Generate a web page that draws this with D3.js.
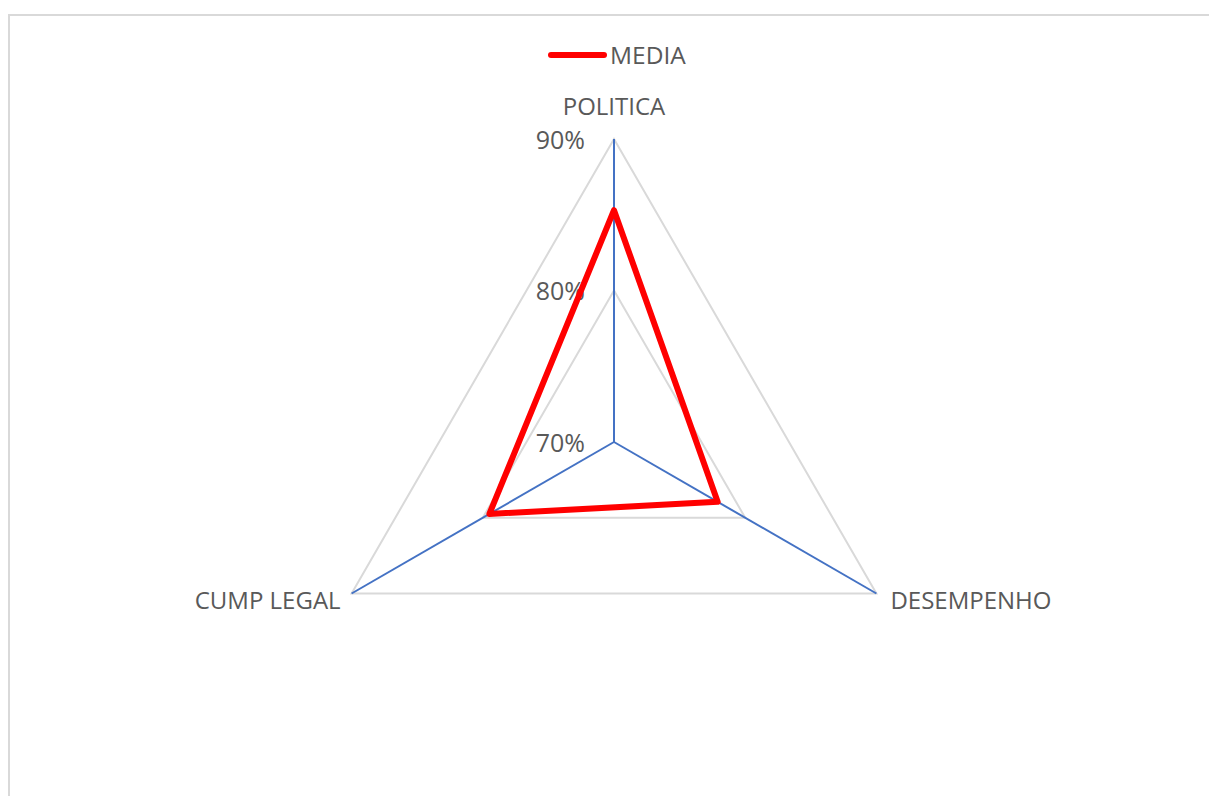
<!DOCTYPE html>
<html>
<head>
<meta charset="utf-8">
<script src="https://cdn.jsdelivr.net/npm/d3@7"></script>
<style>
  body { margin: 0; background: #fff; }
  text { font-family: "Open Sans", sans-serif; fill: #595959; }
</style>
</head>
<body>
<svg id="chart" width="1209" height="796"></svg>
<script>
// radar data
var axes = ["POLITICA", "DESEMPENHO", "CUMP LEGAL"];
var media = [0.853, 0.779, 0.795];
var seriesName = "MEDIA";
var tickValues = [0.7, 0.8, 0.9];

var w = 1209, h = 796;
var cx = 614, cy = 442, R = 303;

var svg = d3.select("#chart");

// chart area border
svg.append("rect")
    .attr("x", 9).attr("y", 15)
    .attr("width", w + 20).attr("height", h + 20)
    .attr("fill", "none")
    .attr("stroke", "#d9d9d9")
    .attr("stroke-width", 2);

var r = d3.scaleLinear().domain([0.7, 0.9]).range([0, R]);
var fmt = d3.format(".0%");

function angle(i) { return -Math.PI / 2 + i * 2 * Math.PI / axes.length; }
function pt(i, v) {
    var a = angle(i);
    return [cx + r(v) * Math.cos(a), cy + r(v) * Math.sin(a)];
}

var g = svg.append("g");

// grid rings
g.selectAll("path.ring")
    .data(tickValues.slice(1))
    .enter()
    .append("path")
    .attr("class", "ring")
    .attr("d", function(t) {
        return d3.line()(axes.map(function(d, i) { return pt(i, t); })) + "Z";
    })
    .attr("fill", "none")
    .attr("stroke", "#d9d9d9")
    .attr("stroke-width", 2);

// spokes
g.selectAll("line.spoke")
    .data(axes)
    .enter()
    .append("line")
    .attr("x1", cx).attr("y1", cy)
    .attr("x2", function(d, i) { return pt(i, 0.9)[0]; })
    .attr("y2", function(d, i) { return pt(i, 0.9)[1]; })
    .attr("stroke", "#4472c4")
    .attr("stroke-width", 2);

// tick labels
g.selectAll("text.tick")
    .data(tickValues)
    .enter()
    .append("text")
    .attr("x", cx - 29)
    .attr("y", function(t) { return cy - r(t) + 1; })
    .attr("dy", "0.35em")
    .attr("text-anchor", "end")
    .style("font-size", "25px")
    .text(function(t) { return fmt(t); });

// axis labels
var labelPos = [
    { dx: 0, dy: -32, anchor: "middle" },
    { dx: 14, dy: 7, anchor: "start" },
    { dx: -11, dy: 7, anchor: "end" }
];
g.selectAll("text.axis")
    .data(axes)
    .enter()
    .append("text")
    .attr("x", function(d, i) { return pt(i, 0.9)[0] + labelPos[i].dx; })
    .attr("y", function(d, i) { return pt(i, 0.9)[1] + labelPos[i].dy; })
    .attr("dy", "0.35em")
    .attr("text-anchor", function(d, i) { return labelPos[i].anchor; })
    .style("font-size", "24px")
    .text(function(d) { return d; });

// series
g.append("path")
    .attr("d", d3.line()(media.map(function(v, i) { return pt(i, v); })) + "Z")
    .attr("fill", "none")
    .attr("stroke", "#ff0000")
    .attr("stroke-width", 6)
    .attr("stroke-linejoin", "round");

// legend
var lg = svg.append("g").attr("transform", "translate(549,55)");
lg.append("line")
    .attr("x1", 2).attr("x2", 55)
    .attr("stroke", "#ff0000")
    .attr("stroke-width", 6)
    .attr("stroke-linecap", "round");
lg.append("text")
    .attr("x", 61)
    .attr("dy", "0.35em")
    .style("font-size", "24.5px")
    .text(seriesName);
</script>
</body>
</html>
